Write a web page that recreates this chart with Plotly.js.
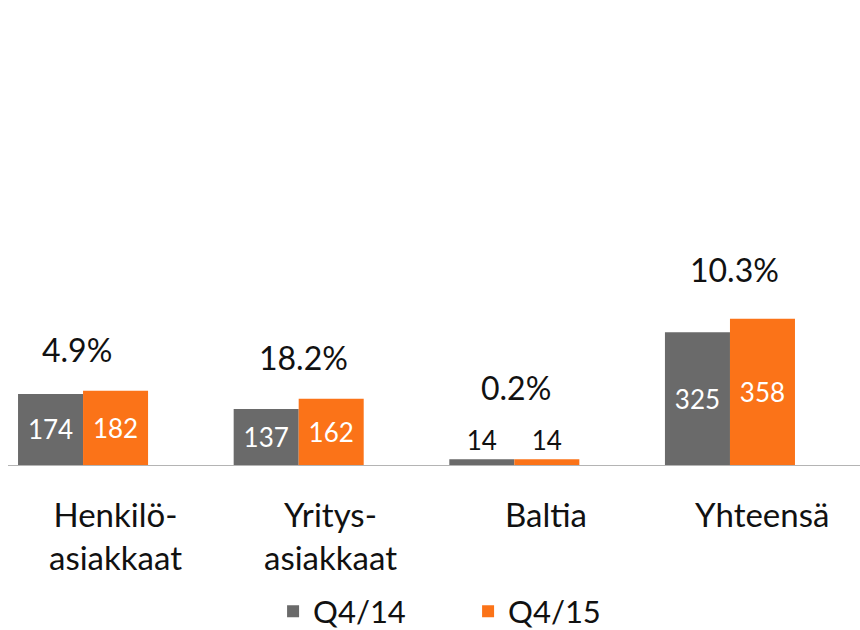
<!DOCTYPE html>
<html>
<head>
<meta charset="utf-8">
<script src="https://cdn.plot.ly/plotly-3.0.1.min.js"></script>
<style>html,body{margin:0;padding:0;background:#fff;}#chart{width:860px;height:630px;}</style>
</head>
<body>
<div id="chart"></div>
<script>
const categories = ["Henkilö-<br>asiakkaat", "Yritys-<br>asiakkaat", "Baltia", "Yhteensä"];
const seriesNames = ["Q4/14", "Q4/15"];
const q414 = [174, 137, 14, 325];
const q415 = [182, 162, 14, 358];
const changeLabels = ["4.9%", "18.2%", "0.2%", "10.3%"];

// styling (label offsets, in px)
const pctShift = [41, 41, 72, 49];
const pctXShift = [-6, 5, 2, 5];
const colors = ["#6a6a6a", "#fb7318"];
const FONT = "Lato, 'Open Sans', sans-serif";

function barTrace(name, vals, color) {
  return {
    type: "bar",
    name: name,
    x: categories,
    y: vals,
    marker: {color: color},
    text: vals.map(String),
    textposition: "auto",
    insidetextanchor: "middle",
    constraintext: "none",
    insidetextfont: {family: FONT, size: 26, color: "#ffffff"},
    outsidetextfont: {family: FONT, size: 26, color: "#111111"},
    cliponaxis: false,
    hoverinfo: "x+y"
  };
}

const data = [
  barTrace(seriesNames[0], q414, colors[0]),
  barTrace(seriesNames[1], q415, colors[1])
];

const pctAnnotations = categories.map((c, i) => ({
  x: c,
  y: Math.max(q414[i], q415[i]),
  xref: "x", yref: "y",
  text: changeLabels[i],
  showarrow: false,
  yanchor: "middle",
  yshift: pctShift[i],
  xshift: pctXShift[i],
  font: {family: FONT, size: 32, color: "#111111"}
}));

// category labels (drawn as annotations: they sit offset to the right of the bar groups)
const catAnnotations = categories.map((c) => ({
  x: c,
  y: -0.059,
  xref: "x", yref: "paper",
  text: c,
  showarrow: false,
  xanchor: "center",
  yanchor: "top",
  xshift: 32,
  align: "center",
  font: {family: FONT, size: 33, color: "#111111"}
}));

const layout = {
  width: 860, height: 630,
  margin: {l: 8, r: 0, t: 10, b: 165, autoexpand: false},
  paper_bgcolor: "#ffffff",
  plot_bgcolor: "#ffffff",
  font: {family: FONT, color: "#111111"},
  barmode: "group",
  bargap: 0.397,
  bargroupgap: 0,
  showlegend: true,
  legend: {
    orientation: "h",
    x: 0.54, xanchor: "center",
    y: -0.322, yanchor: "middle",
    font: {family: FONT, size: 31, color: "#111111"},
    traceorder: "normal",
    entrywidth: 150
  },
  xaxis: {
    type: "category",
    range: [-0.348, 3.603],
    automargin: false,
    showline: true,
    linecolor: "#b4b4b4",
    linewidth: 1,
    showgrid: false,
    zeroline: false,
    ticks: "",
    showticklabels: false
  },
  yaxis: {
    range: [0, 1114],
    visible: false,
    automargin: false,
    showgrid: false,
    zeroline: false
  },
  annotations: pctAnnotations.concat(catAnnotations)
};

Plotly.newPlot("chart", data, layout, {displayModeBar: false, staticPlot: true});
</script>
</body>
</html>
